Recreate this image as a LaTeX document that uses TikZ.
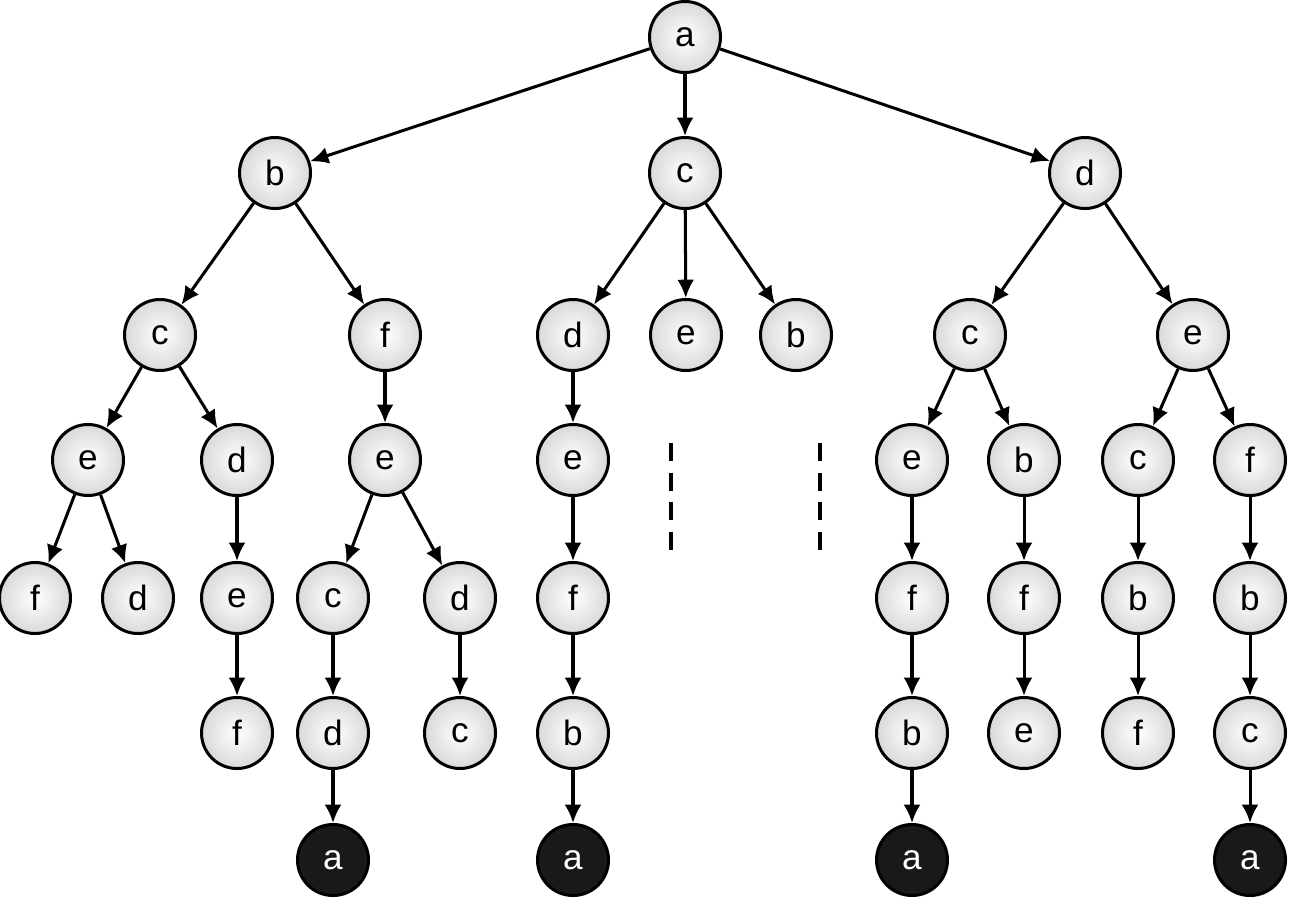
\documentclass[tikz,border=0pt]{standalone}
\usepackage{fontspec}
\setmainfont{Liberation Sans}
\usetikzlibrary{arrows.meta}
\begin{document}
\begin{tikzpicture}[x=0.05cm,y=-0.05cm,
  nd/.style={circle,draw,line width=4.3pt,minimum size=3.55cm,inner sep=0pt,inner color=white,outer color=black!15,font=\fontsize{50}{54}\selectfont},
  blk/.style={circle,draw,line width=4.3pt,minimum size=3.55cm,inner sep=0pt,fill=black!90,text=white,font=\fontsize{50}{54}\selectfont},
  ar/.style={-{Latex[length=26pt,width=24pt]},line width=4.3pt}]
\useasboundingbox (0,0) rectangle (1289,899);
\node[nd] (r) at (685,37) {a};
\node[nd] (b) at (275,173) {b};
\node[nd] (c) at (685,173) {c};
\node[nd] (d) at (1085,173) {d};
\node[nd] (bc) at (160,335) {c};
\node[nd] (bf) at (385,335) {f};
\node[nd] (cd) at (573,335) {d};
\node[nd] (ce) at (686,335) {e};
\node[nd] (cb) at (796,335) {b};
\node[nd] (dc) at (970,335) {c};
\node[nd] (de) at (1193,335) {e};
\node[nd] (n1) at (88,460) {e};
\node[nd] (n2) at (237,460) {d};
\node[nd] (n3) at (385,460) {e};
\node[nd] (n4) at (573,460) {e};
\node[nd] (n5) at (912,460) {e};
\node[nd] (n6) at (1024,460) {b};
\node[nd] (n7) at (1138,460) {c};
\node[nd] (n8) at (1250,460) {f};
\node[nd] (m1) at (35,598) {f};
\node[nd] (m2) at (138,598) {d};
\node[nd] (m3) at (237,598) {e};
\node[nd] (m4) at (333,598) {c};
\node[nd] (m5) at (460,598) {d};
\node[nd] (m6) at (573,598) {f};
\node[nd] (m7) at (912,598) {f};
\node[nd] (m8) at (1024,598) {f};
\node[nd] (m9) at (1138,598) {b};
\node[nd] (m10) at (1250,598) {b};
\node[nd] (k1) at (237,733) {f};
\node[nd] (k2) at (333,733) {d};
\node[nd] (k3) at (460,733) {c};
\node[nd] (k4) at (573,733) {b};
\node[nd] (k5) at (912,733) {b};
\node[nd] (k6) at (1024,733) {e};
\node[nd] (k7) at (1138,733) {f};
\node[nd] (k8) at (1250,733) {c};
\node[blk] (z1) at (333,860) {a};
\node[blk] (z2) at (573,860) {a};
\node[blk] (z3) at (912,860) {a};
\node[blk] (z4) at (1250,860) {a};
\foreach \u/\v in {r/b,r/c,r/d,b/bc,b/bf,c/cd,c/ce,c/cb,d/dc,d/de,
  bc/n1,bc/n2,bf/n3,cd/n4,dc/n5,dc/n6,de/n7,de/n8,
  n1/m1,n1/m2,n2/m3,n3/m4,n3/m5,n4/m6,n5/m7,n6/m8,n7/m9,n8/m10,
  m3/k1,m4/k2,m5/k3,m6/k4,m7/k5,m8/k6,m9/k7,m10/k8,
  k2/z1,k4/z2,k5/z3,k8/z4}
  \draw[ar] (\u) -- (\v);
\coordinate (q1) at (671,443); \coordinate (q2) at (671,553);
\coordinate (q3) at (820,443); \coordinate (q4) at (820,553);
\draw[line width=4.3pt,dash pattern=on 26pt off 16pt] (q1) -- (q2);
\draw[line width=4.3pt,dash pattern=on 26pt off 16pt] (q3) -- (q4);
\end{tikzpicture}
\end{document}
